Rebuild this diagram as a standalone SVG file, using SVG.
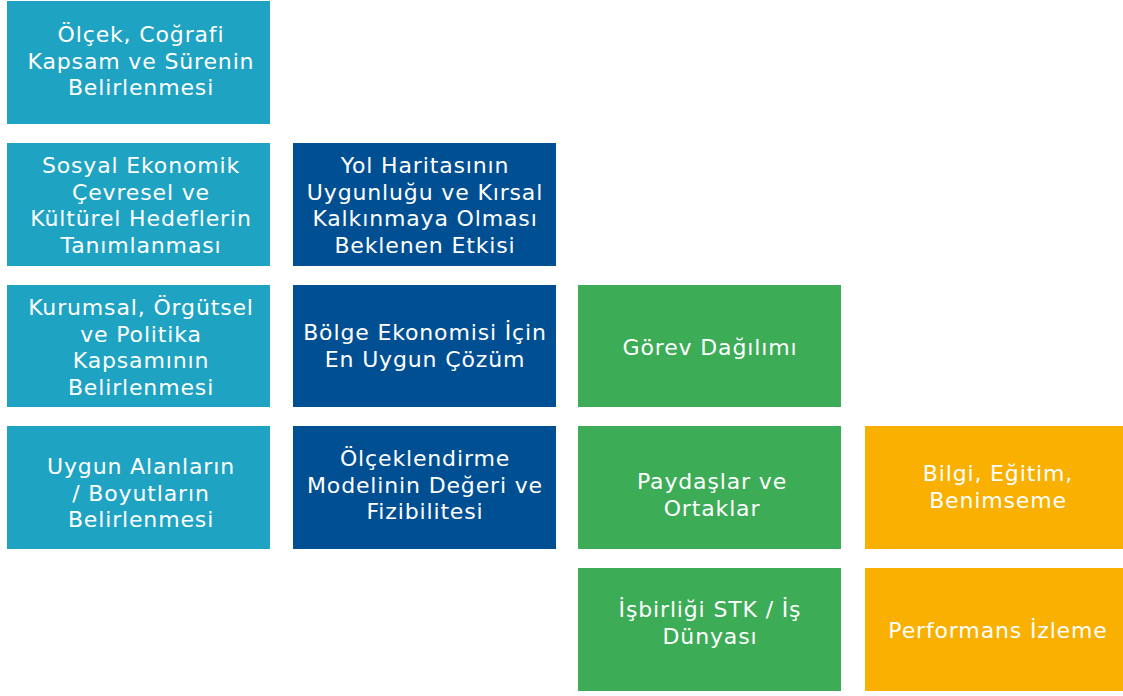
<svg xmlns="http://www.w3.org/2000/svg" width="1123" height="696" viewBox="0 0 1123 696">
<style>
.t{font-family:"DejaVu Sans","Liberation Sans",sans-serif;font-size:22px;fill:#ffffff;text-anchor:middle;letter-spacing:0.85px}
.teal{fill:#1EA3C3}
.blue{fill:#004F93}
.green{fill:#3CAC57}
.orange{fill:#F9B000}
</style>
<rect width="1123" height="696" fill="#ffffff"/>
<g id="connectors"></g>
<g id="n1"><rect class="teal" x="7" y="1" width="263" height="123"/>
<text class="t"><tspan x="141" y="42">Ölçek, Coğrafi</tspan><tspan x="141" y="68.5">Kapsam ve Sürenin</tspan><tspan x="141" y="95">Belirlenmesi</tspan></text></g>
<g id="n2"><rect class="teal" x="7" y="143" width="263" height="123"/>
<text class="t"><tspan x="141" y="173">Sosyal Ekonomik</tspan><tspan x="141" y="199.7">Çevresel ve</tspan><tspan x="141" y="226.4">Kültürel Hedeflerin</tspan><tspan x="141" y="253">Tanımlanması</tspan></text></g>
<g id="n3"><rect class="teal" x="7" y="285" width="263" height="122"/>
<text class="t"><tspan x="141" y="315">Kurumsal, Örgütsel</tspan><tspan x="141" y="341.5">ve Politika</tspan><tspan x="141" y="368">Kapsamının</tspan><tspan x="141" y="394.5">Belirlenmesi</tspan></text></g>
<g id="n4"><rect class="teal" x="7" y="426" width="263" height="123"/>
<text class="t"><tspan x="141" y="474">Uygun Alanların</tspan><tspan x="141" y="500.5">/ Boyutların</tspan><tspan x="141" y="527">Belirlenmesi</tspan></text></g>
<g id="n5"><rect class="blue" x="293" y="143" width="263" height="123"/>
<text class="t"><tspan x="425" y="173">Yol Haritasının</tspan><tspan x="425" y="199.7">Uygunluğu ve Kırsal</tspan><tspan x="425" y="226.4">Kalkınmaya Olması</tspan><tspan x="425" y="253">Beklenen Etkisi</tspan></text></g>
<g id="n6"><rect class="blue" x="293" y="285" width="263" height="122"/>
<text class="t"><tspan x="425" y="340">Bölge Ekonomisi İçin</tspan><tspan x="425" y="366.5">En Uygun Çözüm</tspan></text></g>
<g id="n7"><rect class="blue" x="293" y="426" width="263" height="123"/>
<text class="t"><tspan x="425" y="466">Ölçeklendirme</tspan><tspan x="425" y="492.7">Modelinin Değeri ve</tspan><tspan x="425" y="519.3">Fizibilitesi</tspan></text></g>
<g id="n8"><rect class="green" x="578" y="285" width="263" height="122"/>
<text class="t"><tspan x="710" y="355">Görev Dağılımı</tspan></text></g>
<g id="n9"><rect class="green" x="578" y="426" width="263" height="123"/>
<text class="t"><tspan x="712" y="489">Paydaşlar ve</tspan><tspan x="712" y="516">Ortaklar</tspan></text></g>
<g id="n10"><rect class="green" x="578" y="568" width="263" height="123"/>
<text class="t"><tspan x="710" y="617">İşbirliği STK / İş</tspan><tspan x="710" y="643.5">Dünyası</tspan></text></g>
<g id="n11"><rect class="orange" x="865" y="426" width="258" height="123"/>
<text class="t"><tspan x="998" y="481">Bilgi, Eğitim,</tspan><tspan x="998" y="508">Benimseme</tspan></text></g>
<g id="n12"><rect class="orange" x="865" y="568" width="258" height="123"/>
<text class="t"><tspan x="998" y="638">Performans İzleme</tspan></text></g>
</svg>
